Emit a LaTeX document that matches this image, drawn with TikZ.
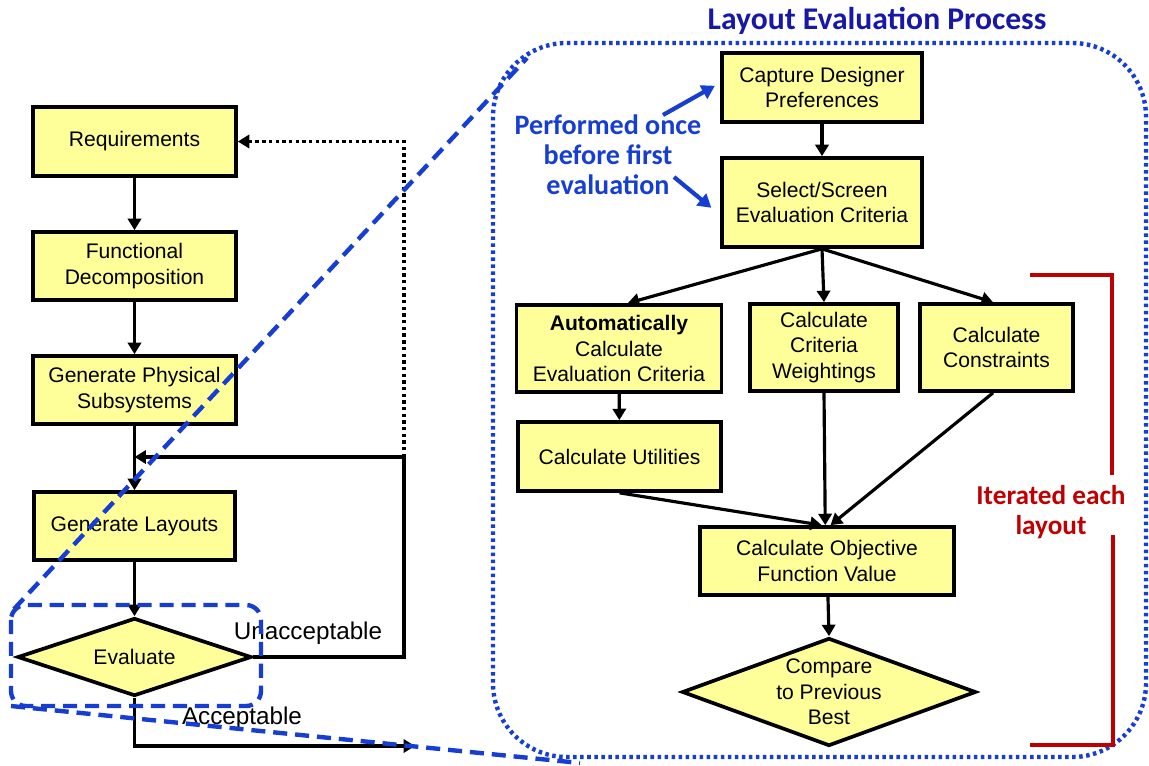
\documentclass[tikz,border=0pt]{standalone}
\usepackage{fontspec}
\setmainfont{Liberation Sans}
\newfontfamily\carlitofont{Carlito}
\usetikzlibrary{arrows.meta,shapes.geometric}
\definecolor{boxfill}{RGB}{255,255,153}
\definecolor{titleblue}{RGB}{24,24,168}
\definecolor{annblue}{RGB}{22,62,210}
\definecolor{zoomblue}{RGB}{22,62,210}
\definecolor{itred}{RGB}{192,0,0}
\begin{document}
\begin{tikzpicture}[x=0.02cm,y=-0.02cm,
  sz/.style 2 args={minimum width={#1*0.02cm}, minimum height={#2*0.02cm}},
  box/.style={draw=black, line width=2.1pt, fill=boxfill, align=center, inner sep=0pt, font=\fontsize{12}{14.5}\selectfont},
  decision/.style={diamond, aspect=3, draw=black, line width=2.1pt, fill=boxfill, inner sep=0pt},
  dtext/.style={align=center, inner sep=0pt, font=\fontsize{12}{14.5}\selectfont},
  conn/.style={line width=1.8pt, -{Triangle[length=6.5pt,width=7.5pt]}},
  dotconn/.style={line width=1.8pt, dash pattern=on 1.9pt off 1.9pt, -{Triangle[length=6.5pt,width=7.5pt]}},
  lbl/.style={font=\fontsize{13.8}{16}\selectfont, inner sep=0pt},
  annot/.style={text=annblue, align=center, font=\carlitofont\bfseries\fontsize{16}{17}\selectfont},
  annarrow/.style={draw=annblue, line width=2.4pt, -{Triangle[length=7.5pt,width=8.5pt]}},
  zoomline/.style={draw=zoomblue, line width=2.5pt, dash pattern=on 8pt off 4.5pt},
  bigdotted/.style={draw=zoomblue, line width=2.5pt, dash pattern=on 2pt off 2pt, rounded corners=42pt},
  bracket/.style={draw=itred, line width=1.9pt}
]
\useasboundingbox (0,0) rectangle (1149,765);

% ---- left flow ----
\node[box, sz={203}{69}] (req) at (134.5,141.5) {Requirements};
\node[box, sz={203}{68}] (fd) at (134.5,266) {Functional\\Decomposition};
\node[box, sz={203}{68}] (gps) at (134.5,390) {Generate Physical\\Subsystems};
\node[box, sz={201}{68}] (gl) at (134.5,526) {Generate Layouts};
\node[decision, sz={234}{78}] (ev) at (134.5,657) {};
\node[dtext] (evt) at (ev.center) {Evaluate};

\coordinate (join) at (134.5,457);
\coordinate (fbt) at (404,457);
\coordinate (fbb) at (404,657);
\coordinate (dtop) at (404,141.5);
\coordinate (acc1) at (134.5,746);
\coordinate (acc2) at (415,746);

\draw[conn] (req) -- (fd);
\draw[conn] (fd) -- (gps);
\draw[conn] (gps) -- (gl);
\draw[conn] (gl) -- (ev.north);
\draw[conn] (ev.east) -- (fbb) -- (fbt) -- (join);
\draw[dotconn] (fbt) -- (dtop) -- (req.east);
\draw[conn] (ev.south) -- (acc1) -- (acc2);
\node[lbl] (unacc) at (308,633) {Unacceptable};
\node[lbl] (acc) at (242,718) {Acceptable};

% ---- right process ----
\node[text=titleblue, font=\carlitofont\bfseries\fontsize{18}{20}\selectfont] (title) at (877,21) {Layout Evaluation Process};
\draw[bigdotted] (493,43) rectangle (1146,757);

\node[box, sz={200}{69}] (cap) at (822,87.5) {Capture Designer\\Preferences};
\node[box, sz={200}{89}] (sel) at (822,202.5) {Select/Screen\\Evaluation Criteria};
\node[box, sz={205}{87}] (auto) at (619,348.5) {{\bfseries Automatically}\\Calculate\\Evaluation Criteria};
\node[box, sz={148}{87}] (wt) at (824,347.5) {Calculate\\Criteria\\Weightings};
\node[box, sz={153}{87}] (con) at (996.5,347.5) {Calculate\\Constraints};
\node[box, sz={203}{69}] (util) at (619.5,456.5) {Calculate Utilities};
\node[box, sz={254}{68}] (obj) at (827,561) {Calculate Objective\\Function Value};
\node[decision, sz={294}{108}] (cmp) at (829,692) {};
\node[dtext] (cmpt) at (cmp.center) {Compare\\to Previous\\Best};

\draw[conn] (cap) -- (sel);
\draw[conn] (sel.south) -- ([xshift=5pt]auto.north);
\draw[conn] (sel.south) -- (wt.north);
\draw[conn] (sel.south) -- ([xshift=-2pt]con.north);
\draw[conn] (auto) -- (util);
\draw[conn] (util.south) -- ([xshift=-3pt]obj.north);
\draw[conn] (wt.south) -- ([xshift=-1pt]obj.north);
\draw[conn] ([xshift=-2pt]con.south) -- ([xshift=2pt]obj.north);
\draw[conn] (obj) -- (cmp.north);

% annotation
\node[annot] (perf) at (608,155) {Performed once\\before first\\evaluation};
\coordinate (pa1) at (663,115);
\coordinate (pa2) at (674,177);
\draw[annarrow] (pa1) -- ([xshift=-3pt,yshift=1pt]cap.west);
\draw[annarrow] (pa2) -- ([xshift=-5pt,yshift=-3pt]sel.west);

% iteration bracket
\coordinate (b1) at (1030,275);
\coordinate (b2) at (1112,275);
\coordinate (b3) at (1112,475);
\coordinate (b4) at (1113,535);
\coordinate (b5) at (1113,745);
\coordinate (b6) at (1030,745);
\draw[bracket] (b1) -- (b2) -- (b3);
\draw[bracket] (b4) -- (b5) -- (b6);
\node[text=itred, align=center, font=\carlitofont\bfseries\fontsize{15.5}{17}\selectfont] (iter) at (1051,512) {Iterated each\\layout};

% zoom indication
\draw[zoomline, rounded corners=8.5pt] (11,605) rectangle (261,706);
\coordinate (z1) at (14,609);
\coordinate (z2) at (527,58);
\coordinate (z3) at (11,706);
\coordinate (z4) at (580,763);
\draw[zoomline] (z1) -- (z2);
\draw[zoomline] (z3) -- (z4);
\end{tikzpicture}
\end{document}
